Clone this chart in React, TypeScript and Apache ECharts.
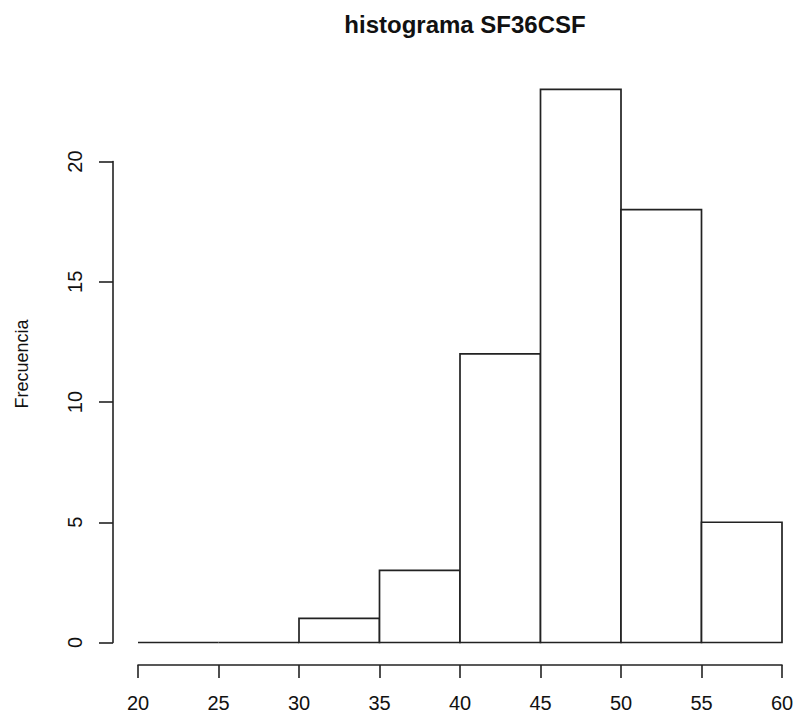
import React, { useEffect, useRef } from "react";
import * as echarts from "echarts";

const binStarts = [20, 25, 30, 35, 40, 45, 50, 55];
const binWidth = 5;
const counts = [0, 0, 1, 3, 12, 23, 18, 5];
const titleText = "histograma SF36CSF";
const yLabel = "Frecuencia";

const FONT = "'Liberation Sans', Arial, sans-serif";
const LINE = "#222";

export default function App() {
  const ref = useRef<HTMLDivElement>(null);
  useEffect(() => {
    if (!ref.current) return;
    const chart = echarts.init(ref.current, null, { renderer: "svg" });
    const data = binStarts.map((s, i) => [s, s + binWidth, counts[i]]);
    chart.setOption({
      animation: false,
      backgroundColor: "#fff",
      title: {
        text: titleText,
        left: 460,
        top: 7,
        textAlign: "center",
        textStyle: { fontFamily: FONT, fontWeight: "bold", fontSize: 24, color: "#111" },
      },
      grid: { left: 138, right: 15, top: 161.5, bottom: 74.5 },
      xAxis: {
        type: "value",
        min: 20,
        max: 60,
        interval: 5,
        offset: 22.5,
        splitLine: { show: false },
        axisLine: { show: true, onZero: false, lineStyle: { color: LINE, width: 1.6 } },
        axisTick: { show: true, length: 13, lineStyle: { color: LINE, width: 1.6 } },
        axisLabel: { fontFamily: FONT, fontSize: 20, color: "#111", margin: 28, showMinLabel: true, showMaxLabel: true },
      },
      yAxis: {
        type: "value",
        min: 0,
        max: 20,
        interval: 5,
        offset: 25,
        splitLine: { show: false },
        axisLine: { show: true, onZero: false, lineStyle: { color: LINE, width: 1.6 } },
        axisTick: { show: true, length: 14, lineStyle: { color: LINE, width: 1.6 } },
        axisLabel: { fontFamily: FONT, fontSize: 20, color: "#111", rotate: 90, margin: 28 },
      },
      graphic: [
        {
          type: "text",
          x: 22,
          y: 364,
          rotation: Math.PI / 2,
          style: {
            text: yLabel,
            font: `18px ${FONT}`,
            fill: "#111",
            align: "center",
            verticalAlign: "middle",
          },
        },
      ],
      series: [
        {
          type: "custom",
          clip: false,
          data,
          renderItem: (params: any, api: any) => {
            const p0 = api.coord([api.value(0), 0]);
            const p1 = api.coord([api.value(1), api.value(2)]);
            return {
              type: "polygon",
              shape: {
                points: [
                  [p0[0], p0[1]],
                  [p0[0], p1[1]],
                  [p1[0], p1[1]],
                  [p1[0], p0[1]],
                ],
              },
              style: { fill: "#fff", stroke: LINE, lineWidth: 1.7 },
            };
          },
        },
      ],
    });
    return () => chart.dispose();
  }, []);
  return (
    <div
      ref={ref}
      style={{ position: "fixed", left: 0, top: 0, width: 797, height: 717 }}
    />
  );
}
